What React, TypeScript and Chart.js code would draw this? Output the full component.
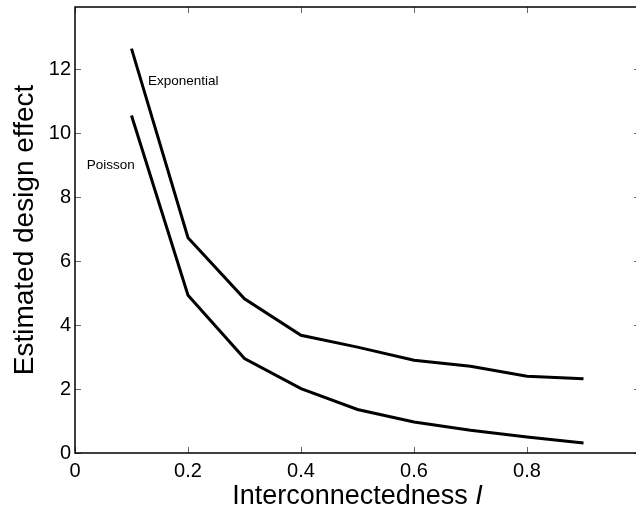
import React, { useEffect, useRef } from "react";
import { Chart, registerables } from "chart.js";

Chart.register(...registerables);

const interconnectedness = [0.1, 0.2, 0.3, 0.4, 0.5, 0.6, 0.7, 0.8, 0.9];
const exponentialEffect = [12.64, 6.73, 4.82, 3.68, 3.31, 2.9, 2.71, 2.4, 2.32];
const poissonEffect = [10.55, 4.93, 2.95, 2.01, 1.36, 0.97, 0.71, 0.5, 0.31];
const xTickValues = [0, 0.2, 0.4, 0.6, 0.8, 1];
const yTickValues = [0, 2, 4, 6, 8, 10, 12];
const seriesNames = ["Exponential", "Poisson"];
const xTitle = "Interconnectedness ";
const xTitleSymbol = "I";
const yTitle = "Estimated design effect";

const FONT = "'Liberation Sans', Arial, Helvetica, sans-serif";
const SHIFT = 9;

const framePlugin = {
  id: "matlabFrame",
  afterDraw(chart: any) {
    const { ctx, chartArea } = chart;
    const xs = chart.scales.x;
    const ys = chart.scales.y;
    const { left, right, top, bottom } = chartArea;
    ctx.save();
    // inner ticks
    ctx.strokeStyle = "#666";
    ctx.lineWidth = 1;
    const tl = 6;
    ctx.beginPath();
    xTickValues.forEach((v) => {
      const px = Math.round(xs.getPixelForValue(v)) + 0.5;
      ctx.moveTo(px, bottom);
      ctx.lineTo(px, bottom - tl);
      ctx.moveTo(px, top);
      ctx.lineTo(px, top + tl);
    });
    yTickValues.forEach((v) => {
      const py = Math.round(ys.getPixelForValue(v)) + 0.5;
      ctx.moveTo(left, py);
      ctx.lineTo(left + tl, py);
      ctx.moveTo(right, py);
      ctx.lineTo(right - tl, py);
    });
    ctx.stroke();
    // box
    ctx.strokeStyle = "#000";
    ctx.lineWidth = 1.5;
    ctx.strokeRect(left, top, right - left, bottom - top);

    // series annotations
    ctx.fillStyle = "#000";
    ctx.font = `13.5px ${FONT}`;
    ctx.textAlign = "left";
    ctx.textBaseline = "alphabetic";
    ctx.fillText(seriesNames[0], xs.getPixelForValue(0.129), ys.getPixelForValue(11.49));
    ctx.fillText(seriesNames[1], xs.getPixelForValue(0.0207), ys.getPixelForValue(8.88));

    // x title with italic symbol
    ctx.font = `27px ${FONT}`;
    const w1 = ctx.measureText(xTitle).width;
    ctx.font = `italic 27px ${FONT}`;
    const w2 = ctx.measureText(xTitleSymbol).width;
    const cx = (left + right) / 2;
    const startX = cx - (w1 + w2) / 2;
    const baseY = bottom + 51;
    ctx.font = `27px ${FONT}`;
    ctx.fillText(xTitle, startX, baseY);
    ctx.font = `italic 27px ${FONT}`;
    ctx.fillText(xTitleSymbol, startX + w1, baseY);

    // y title
    ctx.save();
    ctx.translate(33, (top + bottom) / 2);
    ctx.rotate(-Math.PI / 2);
    ctx.font = `28px ${FONT}`;
    ctx.textAlign = "center";
    ctx.textBaseline = "alphabetic";
    ctx.fillText(yTitle, 0, 0);
    ctx.restore();

    ctx.restore();
  },
};

export default function App() {
  const canvasRef = useRef<HTMLCanvasElement | null>(null);

  useEffect(() => {
    if (!canvasRef.current) return;
    const chart = new Chart(canvasRef.current, {
      type: "line",
      data: {
        datasets: [
          {
            label: seriesNames[0],
            data: interconnectedness.map((x, i) => ({ x, y: exponentialEffect[i] })),
            borderColor: "#000",
            borderWidth: 3,
            pointRadius: 0,
            tension: 0,
          },
          {
            label: seriesNames[1],
            data: interconnectedness.map((x, i) => ({ x, y: poissonEffect[i] })),
            borderColor: "#000",
            borderWidth: 3,
            pointRadius: 0,
            tension: 0,
          },
        ],
      },
      options: {
        responsive: false,
        animation: false,
        devicePixelRatio: 1,
        layout: { padding: { left: 0, top: 7, right: 20, bottom: 0 } },
        plugins: { legend: { display: false }, tooltip: { enabled: false } },
        scales: {
          x: {
            type: "linear",
            min: 0,
            max: 1,
            grid: { display: false, drawTicks: false },
            border: { display: false },
            afterBuildTicks: (scale: any) => {
              scale.ticks = xTickValues.map((v) => ({ value: v }));
            },
            afterFit: (scale: any) => {
              scale.height = 57;
            },
            ticks: {
              color: "#000",
              font: { family: FONT, size: 20 },
              padding: 6,
              maxRotation: 0,
              autoSkip: false,
              callback: (v: any) => String(Math.round(Number(v) * 10) / 10),
            },
          },
          y: {
            type: "linear",
            min: 0,
            max: 13.94,
            grid: { display: false, drawTicks: false },
            border: { display: false },
            afterBuildTicks: (scale: any) => {
              scale.ticks = yTickValues.map((v) => ({ value: v }));
            },
            afterFit: (scale: any) => {
              scale.width = 75;
            },
            ticks: {
              color: "#000",
              font: { family: FONT, size: 20 },
              padding: 4,
              autoSkip: false,
              callback: (v: any) => String(v),
            },
          },
        },
      },
      plugins: [framePlugin],
    });
    return () => chart.destroy();
  }, []);

  return (
    <div
      style={{
        position: "fixed",
        left: 0,
        top: 0,
        width: 636,
        height: 510,
        overflow: "hidden",
        background: "#fff",
      }}
    >
      <canvas
        ref={canvasRef}
        width={660}
        height={510 + SHIFT}
        style={{ display: "block", marginTop: -SHIFT }}
      />
    </div>
  );
}
